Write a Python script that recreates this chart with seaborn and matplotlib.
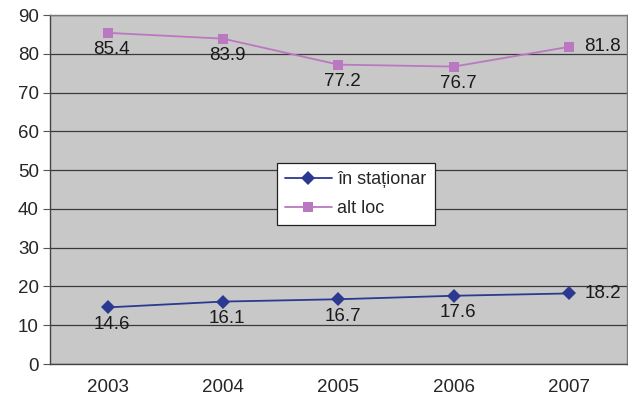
import pandas as pd
import numpy as np
import matplotlib.pyplot as plt
import seaborn as sns

years = ['2003', '2004', '2005', '2006', '2007']
in_stationar = [14.6, 16.1, 16.7, 17.6, 18.2]
alt_loc = [85.4, 83.9, 77.2, 76.7, 81.8]

s1 = 'în staționar'
s2 = 'alt loc'
df = pd.DataFrame({
    'pos': list(range(len(years))) * 2,
    'val': in_stationar + alt_loc,
    'serie': [s1] * len(years) + [s2] * len(years),
})

sns.set_style('white')
plt.rcParams['font.family'] = ['Liberation Sans', 'DejaVu Sans']
fs = 13.5

fig = plt.figure(figsize=(6.28, 3.99), dpi=100)
ax = fig.add_axes([0.0796, 0.0877, 0.9188, 0.8747])
ax.set_facecolor('#C8C8C8')

colors = {s1: '#2B3990', s2: '#BA78C0'}
sns.lineplot(data=df, x='pos', y='val', hue='serie', style='serie',
             markers={s1: 'D', s2: 's'}, dashes=False, palette=colors,
             markersize=7, markeredgewidth=0, linewidth=1.3, ax=ax)

# data labels
for vals in (in_stationar, alt_loc):
    for i, v in enumerate(vals):
        if i == len(vals) - 1:
            ax.annotate(f'{v}', (i, v), xytext=(11, 0), textcoords='offset points',
                        ha='left', va='center', fontsize=fs, color='#1a1a1a')
        else:
            ax.annotate(f'{v}', (i, v), xytext=(3, -6), textcoords='offset points',
                        ha='center', va='top', fontsize=fs, color='#1a1a1a')

ax.set_xlim(-0.5, len(years) - 0.5)
ax.set_ylim(0, 90)
ax.set_yticks(np.arange(0, 91, 10))
ax.yaxis.grid(True, color='#3a3a3a', linewidth=0.9)
ax.set_axisbelow(True)

ax.set_xticks(range(len(years)))
ax.set_xticklabels(years)
ax.set_xticks(np.arange(-0.5, len(years), 1), minor=True)
ax.tick_params(axis='x', which='major', length=0, pad=11, labelsize=fs)
ax.tick_params(axis='x', which='minor', length=5, color='#555555', direction='out')
ax.tick_params(axis='y', length=5, color='#555555', direction='out', labelsize=fs, left=True, pad=3)
ax.set_xlabel('')
ax.set_ylabel('')

for sp in ax.spines.values():
    sp.set_color('#777777')
    sp.set_linewidth(1)
ax.spines['left'].set_color('#444444')
ax.spines['bottom'].set_color('#444444')

leg = ax.legend(loc='upper left', bbox_to_anchor=(0.393, 0.576), fontsize=13,
                frameon=True, fancybox=False, handlelength=2.6, borderpad=0.45,
                labelspacing=0.65, handletextpad=0.3, borderaxespad=0)
leg.get_frame().set_edgecolor('#222222')
leg.get_frame().set_facecolor('white')
leg.get_frame().set_linewidth(0.9)
leg.get_frame().set_alpha(1)

fig.savefig('out.png', dpi=100)
